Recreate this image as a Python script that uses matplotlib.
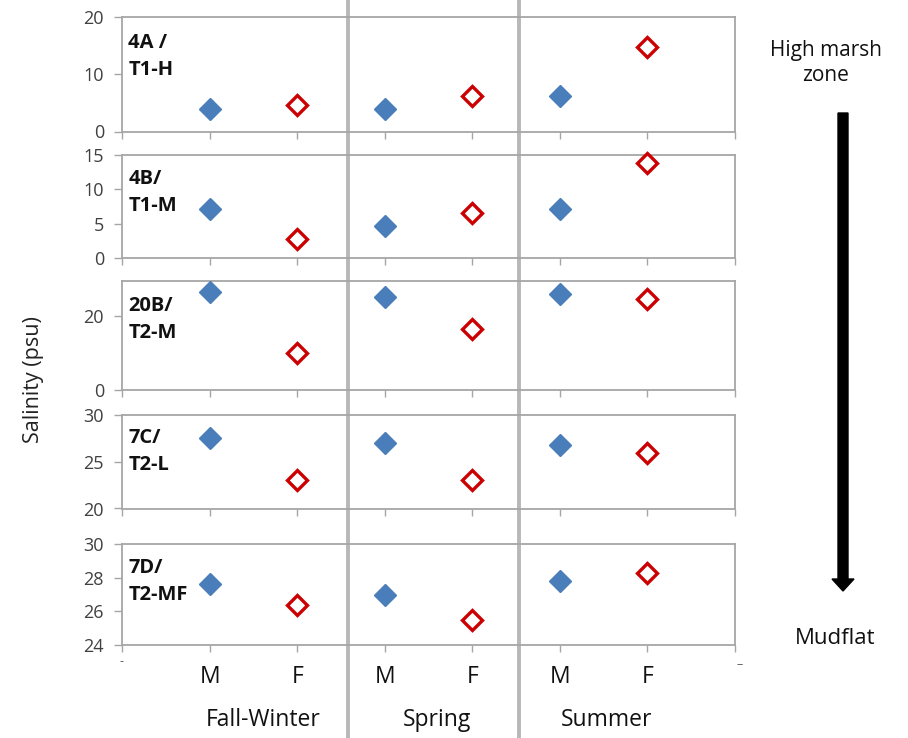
import matplotlib
matplotlib.use("Agg")
import matplotlib.pyplot as plt
from matplotlib.lines import Line2D
from matplotlib.patches import FancyArrow

plt.rcParams['font.family'] = ['Open Sans', 'DejaVu Sans']

seasons = ["Fall-Winter", "Spring", "Summer"]
sexes = ["M", "F"]
sites = ["4A /\nT1-H", "4B/\nT1-M", "20B/\nT2-M", "7C/\nT2-L", "7D/\nT2-MF"]

# salinity (psu) per site, one value per season
male = [
    [3.9, 4.0, 6.2],
    [7.1, 4.6, 7.1],
    [26.5, 25.2, 25.9],
    [27.5, 27.0, 26.8],
    [27.6, 27.0, 27.8],
]
female = [
    [4.7, 6.2, 14.8],
    [2.7, 6.6, 13.8],
    [10.0, 16.4, 24.6],
    [23.0, 23.0, 25.9],
    [26.4, 25.5, 28.3],
]
y_limits = [(0, 20), (0, 15), (0, 29.5), (20, 30), (24, 30)]
y_ticks = [[0, 10, 20], [0, 5, 10, 15], [0, 20], [20, 25, 30], [24, 26, 28, 30]]

W, H = 908, 738
fig = plt.figure(figsize=(W / 100, H / 100), dpi=100)

left_px, right_px = 122, 735
panel_px = [(17, 131.5), (155, 258), (281, 390), (415, 508.5), (544, 645)]

frame_col = "#a6a6a6"
tick_col = "#404040"
blue = "#4a7ebb"
red = "#cc0000"

# season separators, drawn across the whole figure
for xd in [2.58, 4.53]:
    xf = (left_px + xd * (right_px - left_px) / 7) / W
    fig.add_artist(Line2D([xf, xf], [0, 1], color="#b8b8b8", linewidth=2.8, zorder=0))

axes = []
for i, (top, bot) in enumerate(panel_px):
    ax = fig.add_axes([left_px / W, 1 - bot / H, (right_px - left_px) / W, (bot - top) / H])
    ax.patch.set_visible(False)
    xs_m = [1 + 2 * s for s in range(3)]
    xs_f = [2 + 2 * s for s in range(3)]
    ax.plot(xs_m, male[i], linestyle="none", marker="D", markersize=11,
            color=blue, markeredgecolor=blue, zorder=3, clip_on=False)
    ax.plot(xs_f, female[i], linestyle="none", marker="D", markersize=10,
            markerfacecolor="white", markeredgecolor=red, markeredgewidth=2.4,
            zorder=3, clip_on=False)
    ax.set_xlim(0, 7)
    ax.set_ylim(*y_limits[i])
    ax.set_yticks(y_ticks[i])
    ax.set_yticklabels([str(t) for t in y_ticks[i]])
    ax.set_xticks(range(0, 8))
    ax.set_xticklabels([])
    for sp in ax.spines.values():
        sp.set_color(frame_col)
        sp.set_linewidth(1.3)
    ax.tick_params(axis="y", direction="out", length=6, width=1,
                   color=frame_col, labelsize=13, labelcolor=tick_col, pad=7)
    ax.tick_params(axis="x", direction="out", length=5, width=1, color=frame_col)
    ax.text(0.01, 0.86, sites[i], transform=ax.transAxes, ha="left", va="top",
            fontsize=14.5, fontweight="bold", color="#111111", linespacing=1.45)
    axes.append(ax)

# category labels under the bottom panel
bottom_ax = axes[-1]
for s in range(3):
    for j, lab in enumerate(sexes):
        bottom_ax.text(1 + 2 * s + j, -0.32, lab, transform=bottom_ax.get_xaxis_transform(),
                       ha="center", va="center", fontsize=16.5, color="#111111")
season_x = [263, 437, 607]
for s, name in enumerate(seasons):
    fig.text(season_x[s] / W, 1 - 720 / H, name, ha="center", va="center",
             fontsize=16.5, color="#111111")
fig.text(122 / W, 1 - 662 / H, "-", ha="center", va="center", fontsize=9, color="#555555")
fig.text(740 / W, 1 - 665 / H, "–", ha="center", va="center", fontsize=9, color="#555555")

fig.text(33 / W, 1 - 380 / H, "Salinity (psu)", rotation=90, ha="center", va="center",
         fontsize=15.5, color="#222222")

# zonation arrow
fig.text(826 / W, 1 - 63 / H, "High marsh\nzone", ha="center", va="center",
         fontsize=15, color="#111111", linespacing=1.2)
fig.text(835 / W, 1 - 638 / H, "Mudflat", ha="center", va="center",
         fontsize=16, color="#111111")
ax_bg = fig.add_axes([0, 0, 1, 1], zorder=-1)
ax_bg.set_xlim(0, W)
ax_bg.set_ylim(H, 0)
ax_bg.axis("off")
ax_bg.add_patch(FancyArrow(843, 113, 0, 478, width=10, head_width=22, head_length=12,
                           length_includes_head=True, color="black"))

fig.savefig("out.png", dpi=100)
